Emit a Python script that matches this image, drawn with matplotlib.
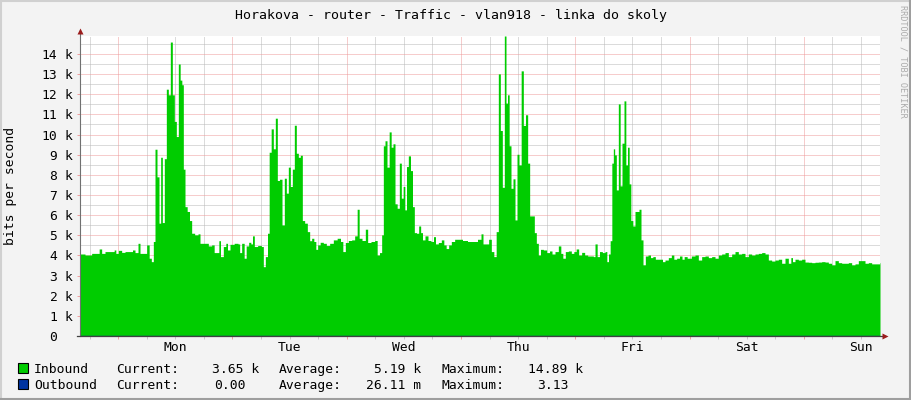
import matplotlib
matplotlib.use("Agg")
import matplotlib.pyplot as plt
import matplotlib.transforms as mtransforms
from matplotlib.patches import Rectangle
from matplotlib.lines import Line2D
import numpy as np

# --- data (hours since graph start, kbit/s) ---
inbound_h = [
    0.0, 2.1, 2.8, 3.85, 4.2, 4.9, 5.6, 7.0, 7.35, 7.7, 8.4, 9.1, 9.8, 10.85, 11.2, 11.9,
    12.46, 12.74, 13.65, 14.35, 14.7, 15.26, 15.54, 15.96, 16.38, 16.8, 17.08, 17.5, 17.92,
    18.34, 18.76, 19.18, 19.6, 20.02, 20.44, 20.86, 21.21, 21.56, 21.84, 22.26, 22.75, 23.24,
    23.66, 24.5, 25.06, 25.34, 26.6, 27.3, 28.0, 28.35, 29.05, 29.26, 29.75, 30.45, 30.8,
    31.15, 31.85, 32.9, 33.46, 33.6, 34.3, 34.65, 35.14, 35.7, 36.05, 36.4, 36.82, 37.8,
    38.36, 38.64, 39.2, 39.55, 39.9, 40.39, 40.81, 41.23, 41.65, 42.14, 42.7, 43.12, 43.54,
    43.96, 44.38, 44.8, 45.22, 45.64, 46.06, 46.48, 46.9, 47.46, 48.02, 48.44, 48.86, 49.35,
    49.7, 50.12, 50.75, 51.45, 52.01, 52.85, 53.55, 54.46, 54.95, 55.44, 56.0, 56.7, 57.4,
    57.96, 58.45, 58.8, 59.64, 60.2, 60.62, 61.6, 62.16, 62.65, 63.14, 63.56, 63.84, 64.26,
    64.68, 65.17, 65.52, 65.94, 66.36, 66.85, 67.27, 67.69, 68.04, 68.39, 68.74, 69.16,
    69.65, 70.0, 70.42, 70.91, 71.33, 71.75, 72.1, 72.8, 73.36, 74.06, 74.41, 74.9, 75.6,
    76.16, 76.65, 77.14, 77.7, 78.26, 79.1, 79.8, 80.85, 81.9, 82.95, 84.0, 84.42, 84.84,
    85.54, 86.1, 86.66, 87.15, 87.64, 88.06, 88.48, 88.9, 89.32, 89.6, 89.95, 90.3, 90.72,
    91.14, 91.56, 91.98, 92.4, 92.89, 93.31, 93.8, 94.22, 94.64, 95.2, 95.62, 96.04, 96.46,
    96.95, 97.65, 98.35, 98.84, 99.4, 100.1, 100.8, 101.15, 101.64, 102.2, 102.9, 103.46,
    103.95, 104.44, 105.0, 105.7, 106.26, 106.96, 107.66, 107.94, 108.36, 108.85, 109.34,
    110.04, 110.46, 110.81, 111.16, 111.51, 111.86, 112.14, 112.42, 112.84, 113.26, 113.61,
    114.03, 114.45, 114.8, 115.15, 115.5, 115.85, 116.34, 116.76, 117.18, 117.6, 118.02,
    118.44, 119.0, 119.56, 120.05, 120.54, 121.1, 122.15, 122.5, 123.2, 123.9, 124.46,
    124.95, 125.65, 126.14, 126.7, 127.05, 127.96, 128.8, 129.5, 130.2, 130.9, 131.6, 132.3,
    133.0, 133.7, 134.4, 135.1, 135.8, 136.5, 137.2, 137.9, 138.6, 139.3, 140.0, 140.7,
    141.4, 142.1, 142.8, 143.5, 144.2, 144.9, 145.6, 146.3, 147.0, 147.7, 148.4, 149.1,
    149.45, 149.8, 150.5, 151.2, 151.9, 152.6, 153.3, 154.0, 154.7, 155.4, 156.1, 156.8,
    157.5, 158.2, 158.9, 159.6, 160.3, 161.0, 161.7, 162.4, 163.1, 163.8, 164.5, 165.2,
    165.9, 166.6, 167.3, 167.86, 168.0,
]
inbound_k = [
    4.07, 4.02, 4.10, 4.10, 4.32, 4.10, 4.19, 4.19, 4.27, 4.10, 4.25, 4.15, 4.19, 4.19, 4.27, 4.14,
    4.60, 4.10, 4.10, 4.52, 3.86, 3.69, 4.69, 9.27, 7.90, 5.60, 8.87, 5.63, 8.80,
    12.25, 11.97, 14.59, 11.97, 10.65, 9.90, 13.50, 12.70, 12.47, 8.28, 6.42, 6.18, 5.73,
    5.10, 5.02, 5.07, 4.60, 4.60, 4.47, 4.52, 4.14, 4.14, 4.73, 3.94, 4.44, 4.60,
    4.27, 4.55, 4.60, 4.57, 4.14, 4.60, 3.86, 4.47, 4.65, 4.57, 4.97, 4.44, 4.49,
    4.44, 3.44, 3.94, 5.10, 9.12, 10.28, 9.29, 10.81, 7.72, 7.78, 5.51, 7.83, 7.09,
    8.38, 7.42, 8.28, 10.46, 9.07, 8.87, 8.97, 5.73, 5.60, 5.18, 4.73, 4.85, 4.69,
    4.30, 4.52, 4.65, 4.60, 4.49, 4.60, 4.77, 4.85, 4.69, 4.19, 4.64, 4.74, 4.77,
    4.97, 6.29, 4.85, 4.74, 5.30, 4.64, 4.69, 4.74, 4.02, 4.14, 5.02, 9.44, 9.69,
    8.38, 10.13, 9.37, 9.54, 6.56, 6.34, 8.58, 6.84, 7.42, 6.26, 8.41, 8.94,
    8.21, 6.42, 5.13, 5.10, 5.46, 5.13, 4.77, 4.97, 4.74, 4.69, 4.93, 4.57, 4.64,
    4.77, 4.52, 4.34, 4.52, 4.69, 4.80, 4.80, 4.74, 4.69, 4.69, 4.80, 5.07, 4.57,
    4.57, 4.80, 4.19, 3.94, 5.18, 13.01, 10.20, 7.38, 14.89, 11.56, 11.97, 9.44, 7.33,
    7.80, 5.76, 9.02, 8.49, 13.16, 10.45, 10.98, 8.58, 5.96, 5.96, 5.13, 4.60, 4.02,
    4.30, 4.27, 4.14, 4.22, 4.07, 4.19, 4.47, 4.10, 3.86, 4.19, 4.22, 4.10,
    4.19, 4.32, 4.02, 4.15, 4.02, 3.97, 3.97, 3.94, 4.57, 3.94, 4.19,
    4.14, 4.19, 3.69, 4.07, 4.73, 8.58, 9.29, 8.99, 7.25, 11.52, 7.45,
    9.57, 11.67, 8.49, 9.37, 7.55, 5.73, 5.46, 6.18, 6.18, 6.29, 4.77,
    3.53, 3.97, 4.02, 3.89, 3.94, 3.81, 3.81, 3.69, 3.77, 3.89, 4.02,
    3.81, 3.86, 3.97, 3.81, 3.94, 3.86, 3.97, 4.02, 3.77, 3.94, 3.97, 3.89,
    3.94, 3.86, 4.02, 4.07, 4.14, 3.94, 4.07, 4.19, 4.07, 4.10, 3.94, 4.07,
    4.02, 4.07, 4.10, 4.14, 4.07, 3.77, 3.72, 3.77, 3.81, 3.61, 3.86, 3.61,
    3.89, 3.69, 3.81, 3.77, 3.81, 3.67, 3.66, 3.64, 3.66, 3.67, 3.69, 3.67,
    3.61, 3.53, 3.74, 3.64, 3.61, 3.61, 3.64, 3.53, 3.58, 3.74, 3.74, 3.61,
    3.64, 3.58, 3.58, 3.58, 3.65,
]
outbound_h = [0.0, 168.0]
outbound_k = [0.0, 0.0]

midnights = [8, 32, 56, 80, 104, 128, 152]
days = ["Mon", "Tue", "Wed", "Thu", "Fri", "Sat", "Sun"]
noons = [m + 12 for m in midnights]
y_ticks = list(range(0, 15))
y_max = 14.89

title = "Horakova - router - Traffic - vlan918 - linka do skoly"
legend_rows = [
    ("Inbound", "#00CC00", "3.65 k", "5.19 k", "14.89 k"),
    ("Outbound", "#0033A0", "0.00", "26.11 m", "3.13"),
]

W, H = 911, 400
MONO = "DejaVu Sans Mono"
FS = 9.4


def fx(px):
    return px / W


def fy(py):
    return 1 - py / H


fig = plt.figure(figsize=(W / 100, H / 100), dpi=100, facecolor="#F3F3F3")
ax = fig.add_axes([fx(80), fy(336), 800 / W, 300 / H])
ax.set_facecolor("white")

ax.fill_between(inbound_h, inbound_k, 0, step="mid", color="#00CC00", linewidth=0,
                zorder=2)
ax.plot(outbound_h, outbound_k, color="#0033A0", lw=1, zorder=2)

ax.set_xlim(0, 168)
ax.set_ylim(0, y_max)

ax.set_xticks(midnights)
ax.set_xticks(np.arange(2, 168, 6), minor=True)
ax.set_yticks(y_ticks)
ax.set_yticks(np.arange(0.5, 15, 1.0), minor=True)
ax.set_axisbelow(True)
ax.grid(which="major", color="#EE9A9A", lw=0.72, linestyle=(0, (1, 1)))
ax.grid(which="minor", color="#B8B8B8", lw=0.72, linestyle=(0, (1, 1)))
ax.tick_params(which="both", labelbottom=False, labelleft=False, direction="out")
ax.tick_params(axis="x", which="major", length=2, width=0.72, color="#F0A0A0")
ax.tick_params(axis="x", which="minor", length=2, width=0.72, color="#C8C8C8")
ax.tick_params(axis="y", which="major", length=2.2, width=0.72, color="#F0A0A0")
ax.tick_params(axis="y", which="minor", length=0)
for s in ax.spines.values():
    s.set_visible(False)

# axes with arrows
ax.plot([0, 0], [0, 1.02], transform=ax.transAxes, color="#707070", lw=0.8,
        clip_on=False, zorder=3)
ax.plot([-0.004, 1.006], [0, 0], transform=ax.transAxes, color="#404040", lw=0.9,
        clip_on=False, zorder=3)
ax.plot([0], [1.018], transform=ax.transAxes, marker="^", ms=4.5, color="#9B1C1C",
        mec="none", clip_on=False, zorder=4)
ax.plot([1.006], [0], transform=ax.transAxes, marker=">", ms=4.5, color="#9B1C1C",
        mec="none", clip_on=False, zorder=4)

# y labels
ytr = mtransforms.blended_transform_factory(fig.transFigure, ax.transData)
for v in y_ticks:
    ax.text(fx(57.5), v, str(v), transform=ytr, ha="right", va="center_baseline",
            family=MONO, fontsize=FS, color="black")
    if v > 0:
        ax.text(fx(64.5), v, "k", transform=ytr, ha="left", va="center_baseline",
                family=MONO, fontsize=FS, color="black")

# day labels
xtr = mtransforms.blended_transform_factory(ax.transData, fig.transFigure)
for h, d in zip(noons, days):
    ax.text(h, fy(351), d, transform=xtr, ha="center", va="baseline",
            family=MONO, fontsize=FS, color="black")

fig.text(fx(451), fy(19), title, ha="center", va="baseline", family=MONO,
         fontsize=9.5, color="black")
fig.text(fx(10.5), fy(186), "bits per second", rotation=90, ha="center",
         va="center", family=MONO, fontsize=FS, color="black")
fig.text(fx(903), fy(5), "RRDTOOL / TOBI OETIKER", rotation=270, ha="center",
         va="top", family=MONO, fontsize=6.1, color="#ABABAB")

# legend
for i, (name, col, cur, avg, mx) in enumerate(legend_rows):
    base = 373 + 16 * i
    fig.add_artist(Rectangle((fx(17.5), fy(base)), 10 / W, 10 / H,
                             transform=fig.transFigure, facecolor=col,
                             edgecolor="black", lw=0.8))
    fig.text(fx(34), fy(base), name, family=MONO, fontsize=FS, va="baseline")
    fig.text(fx(116.5), fy(base), "Current:", family=MONO, fontsize=FS, va="baseline")
    fig.text(fx(279), fy(base), "Average:", family=MONO, fontsize=FS, va="baseline")
    fig.text(fx(441), fy(base), "Maximum:", family=MONO, fontsize=FS, va="baseline")
    fig.text(fx(259 if cur.endswith(("k", "m")) else 245.5), fy(base), cur, family=MONO,
             fontsize=FS, va="baseline", ha="right")
    fig.text(fx(421.5), fy(base), avg, family=MONO, fontsize=FS, va="baseline", ha="right")
    fig.text(fx(583 if mx.endswith(("k", "m")) else 569), fy(base), mx, family=MONO,
             fontsize=FS, va="baseline", ha="right")

# image frame (shade)
for xs, ys, c in [([0, W], [0.5, 0.5], "#D0D0D0"), ([0.5, 0.5], [0, H], "#D0D0D0"),
                  ([0, W], [H - 1, H - 1], "#9E9E9E"), ([W - 1, W - 1], [0, H], "#9E9E9E")]:
    fig.add_artist(Line2D([fx(x) for x in xs], [fy(y) for y in ys],
                          transform=fig.transFigure, color=c, lw=1.5))

fig.savefig("out.png", dpi=100, facecolor=fig.get_facecolor())
